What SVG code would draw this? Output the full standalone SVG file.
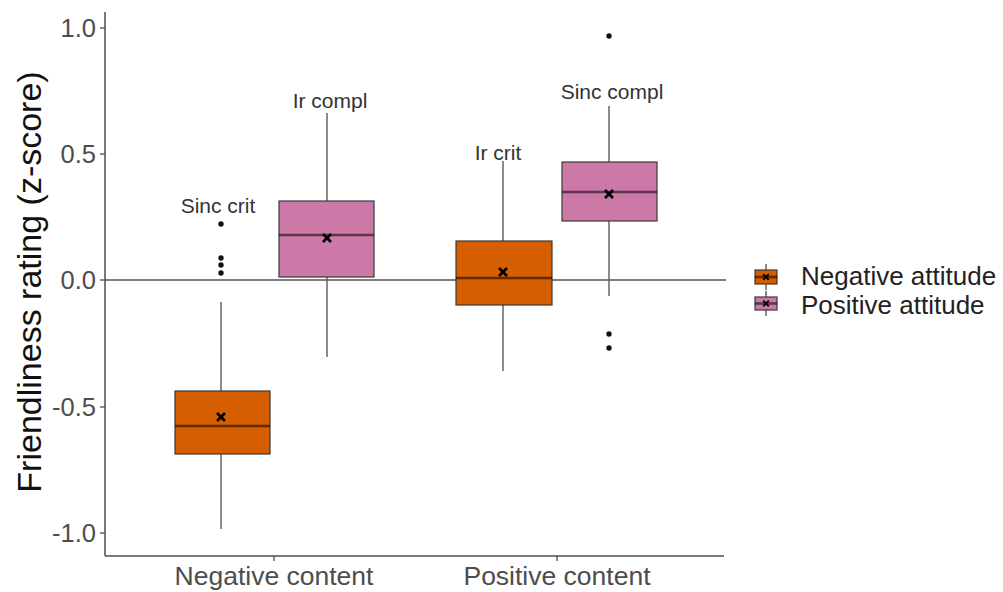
<svg xmlns="http://www.w3.org/2000/svg" width="1003" height="592" viewBox="0 0 1003 592">
<style>
.tick{font-family:"Liberation Sans",Arial,sans-serif;font-size:25.5px;fill:#4d4d4d}
.xl{font-family:"Liberation Sans",Arial,sans-serif;font-size:26.5px;fill:#4d4d4d}
.ann{font-family:"Liberation Sans",Arial,sans-serif;font-size:21px;fill:#333}
.leg{font-family:"Liberation Sans",Arial,sans-serif;font-size:26px;fill:#222}
.title{font-family:"Liberation Sans",Arial,sans-serif;font-size:34px;fill:#111}
.wh{stroke:#5a5a5a;stroke-width:1.4;fill:none}
.box{stroke:#3a3a3a;stroke-width:1.2}
.neg{fill:#D55E00}
.pos{fill:#CC79A7}
.med{stroke:#000;stroke-opacity:0.55;stroke-width:2.6}
.mean{stroke:#000;stroke-width:2.6}
.out{fill:#111}
.axis{stroke:#4d4d4d;stroke-width:1.5;fill:none}
</style>
<defs>
<g id="xm"><line class="mean" x1="-4" y1="-4" x2="4" y2="4"/><line class="mean" x1="-4" y1="4" x2="4" y2="-4"/></g>
</defs>
<rect width="1003" height="592" fill="#fff"/>

<g id="axes">
<line class="axis" x1="105" y1="12" x2="105" y2="556"/>
<line class="axis" x1="105" y1="556" x2="724" y2="556"/>
<g stroke="#4d4d4d" stroke-width="1.3">
<line x1="100" y1="28" x2="105" y2="28"/>
<line x1="100" y1="154" x2="105" y2="154"/>
<line x1="100" y1="280" x2="105" y2="280"/>
<line x1="100" y1="407" x2="105" y2="407"/>
<line x1="100" y1="533" x2="105" y2="533"/>
<line x1="274" y1="556" x2="274" y2="561"/>
<line x1="557" y1="556" x2="557" y2="561"/>
</g>
<g class="tick" text-anchor="end">
<text x="96" y="37">1.0</text>
<text x="96" y="163">0.5</text>
<text x="96" y="289">0.0</text>
<text x="96" y="416">-0.5</text>
<text x="96" y="542">-1.0</text>
</g>
<g class="xl" text-anchor="middle">
<text x="274" y="585">Negative content</text>
<text x="557" y="585">Positive content</text>
</g>
<text class="title" text-anchor="middle" transform="translate(41,282) rotate(-90)">Friendliness rating (z-score)</text>
</g>

<g id="zero-line"><line x1="105" y1="280" x2="726" y2="280" stroke="#555" stroke-width="1.3"/></g>

<g id="neg-content-neg-att">
<line class="wh" x1="221" y1="302" x2="221" y2="391"/>
<line class="wh" x1="221" y1="454" x2="221" y2="529"/>
<rect class="box neg" x="175" y="391" width="95" height="63"/>
<line class="med" x1="175" y1="426" x2="270" y2="426"/>
<use href="#xm" x="221" y="417"/>
<circle class="out" cx="221" cy="224" r="2.7"/>
<circle class="out" cx="221" cy="258" r="2.7"/>
<circle class="out" cx="221" cy="265" r="2.7"/>
<circle class="out" cx="221" cy="273" r="2.7"/>
<text class="ann" x="218" y="213" text-anchor="middle">Sinc crit</text>
</g>

<g id="neg-content-pos-att">
<line class="wh" x1="327" y1="113" x2="327" y2="201"/>
<line class="wh" x1="327" y1="277" x2="327" y2="357"/>
<rect class="box pos" x="279" y="201" width="95" height="76"/>
<line class="med" x1="279" y1="235" x2="374" y2="235"/>
<use href="#xm" x="327" y="238"/>
<text class="ann" x="330" y="108" text-anchor="middle">Ir compl</text>
</g>

<g id="pos-content-neg-att">
<line class="wh" x1="503" y1="161" x2="503" y2="241"/>
<line class="wh" x1="503" y1="305" x2="503" y2="371"/>
<rect class="box neg" x="456" y="241" width="96" height="64"/>
<line class="med" x1="456" y1="278" x2="552" y2="278"/>
<use href="#xm" x="503" y="272"/>
<text class="ann" x="498" y="160" text-anchor="middle">Ir crit</text>
</g>

<g id="pos-content-pos-att">
<line class="wh" x1="609" y1="106" x2="609" y2="162"/>
<line class="wh" x1="609" y1="221" x2="609" y2="296"/>
<rect class="box pos" x="562" y="162" width="95" height="59"/>
<line class="med" x1="562" y1="192" x2="657" y2="192"/>
<use href="#xm" x="609" y="194"/>
<circle class="out" cx="609" cy="36" r="2.7"/>
<circle class="out" cx="609" cy="334" r="2.7"/>
<circle class="out" cx="609" cy="348" r="2.7"/>
<text class="ann" x="612" y="99" text-anchor="middle">Sinc compl</text>
</g>

<g id="legend">
<line class="wh" x1="766" y1="264" x2="766" y2="290"/>
<rect class="box neg" x="755" y="270" width="22" height="14"/>
<line class="med" x1="755" y1="277" x2="777" y2="277" stroke-width="1.6"/>
<g transform="translate(766,277) scale(0.7)"><use href="#xm"/></g>
<line class="wh" x1="766" y1="291" x2="766" y2="316"/>
<rect class="box pos" x="755" y="297" width="22" height="13"/>
<line class="med" x1="755" y1="303.5" x2="777" y2="303.5" stroke-width="1.6"/>
<g transform="translate(766,303.5) scale(0.7)"><use href="#xm"/></g>
<text class="leg" x="801" y="285">Negative attitude</text>
<text class="leg" x="801" y="314">Positive attitude</text>
</g>
</svg>
